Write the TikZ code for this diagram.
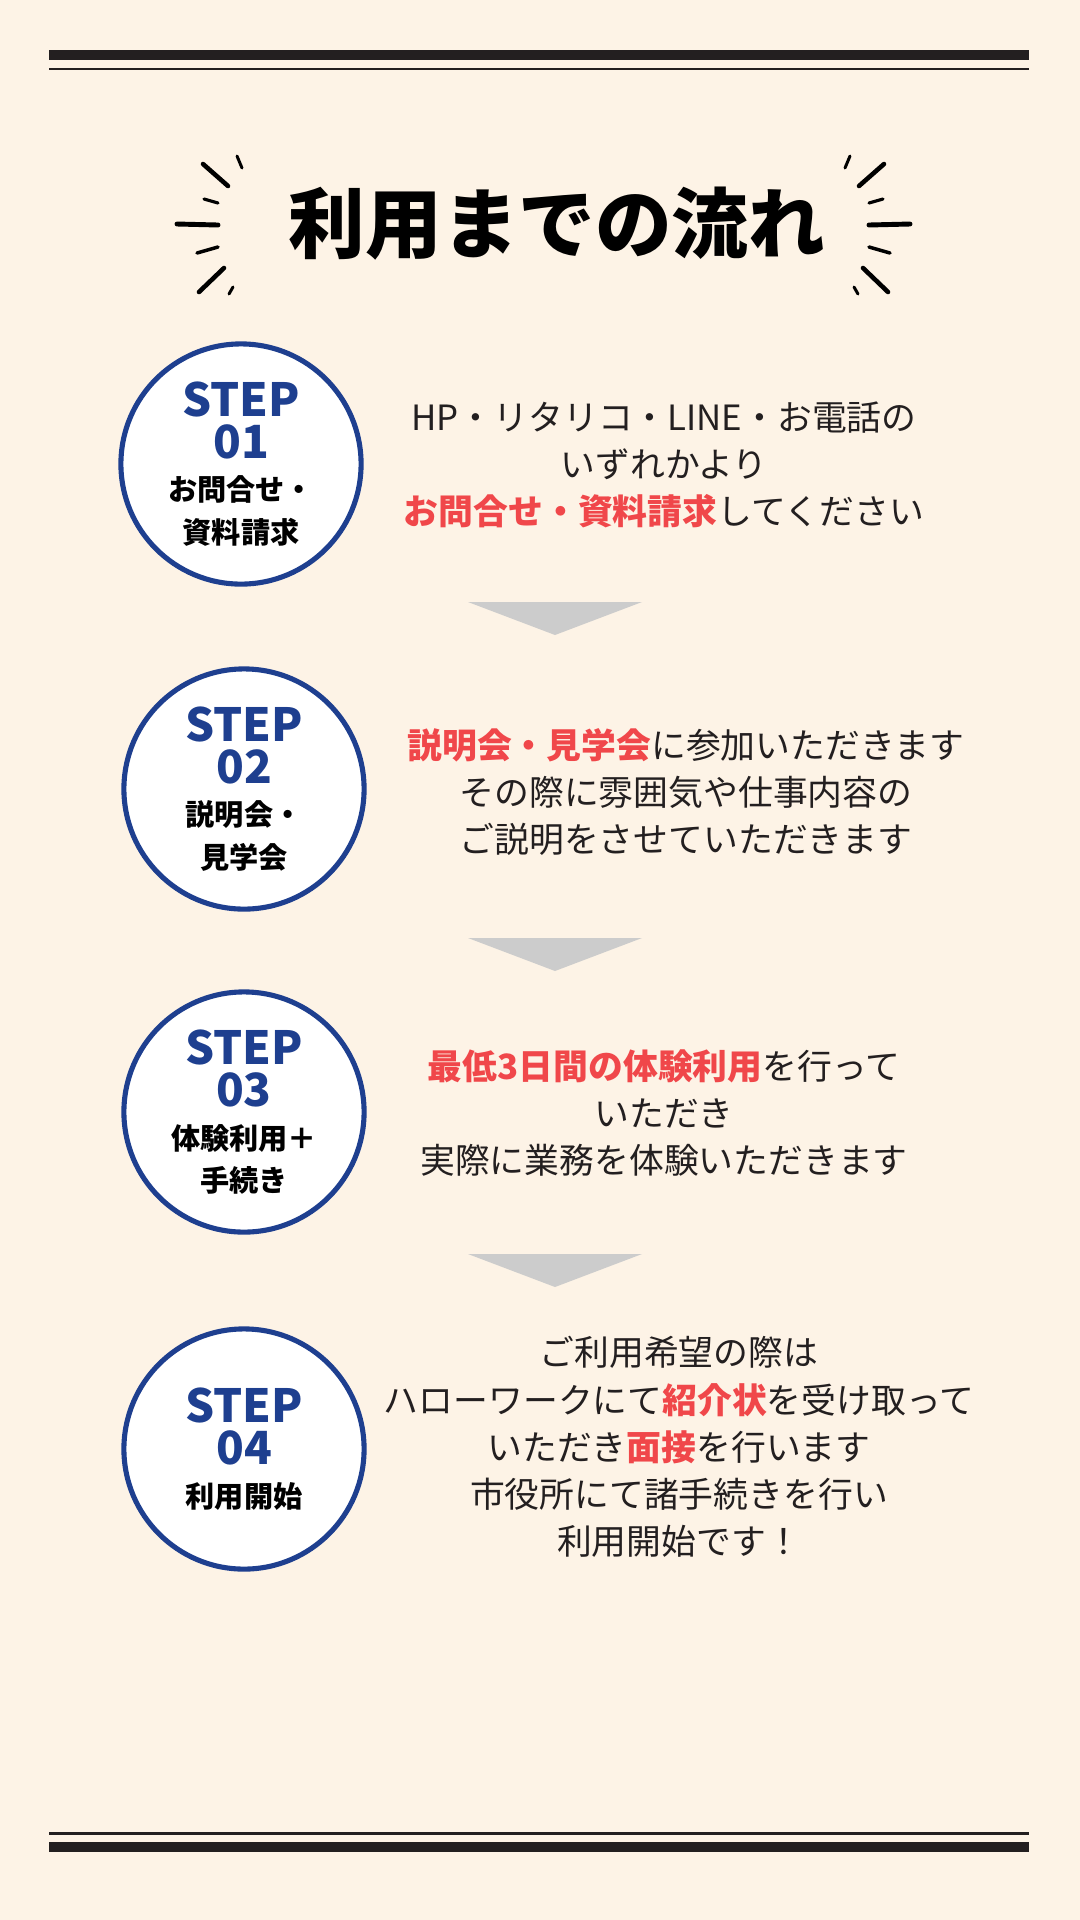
\documentclass[tikz,border=0pt]{standalone}
\usepackage{fontspec}
\setmainfont{Noto Sans CJK JP}
\definecolor{bg}{HTML}{FDF3E6}
\definecolor{navy}{HTML}{1E3F8F}
\definecolor{hl}{HTML}{F0474A}
\definecolor{ink}{HTML}{231F20}
\definecolor{arr}{HTML}{CCCCCC}
\newcommand{\hi}[1]{{\bfseries\color{hl}#1}}
\newcommand{\bigst}[1]{\textcolor{navy}{\bfseries\fontsize{13pt}{12pt}\selectfont #1}}
\newcommand{\smst}[1]{{\bfseries\fontsize{8.3pt}{11pt}\selectfont #1}}
\tikzset{
  stepcircle/.style={circle,draw=navy,line width=1.45pt,fill=white,minimum size=68.3pt,inner sep=0pt,align=center},
  body/.style={align=center,font=\fontsize{9.9pt}{13.4pt}\selectfont,text=ink},
  burst/.style={line cap=round,line width=#1},
  down/.style={fill=arr,draw=none}
}
\begin{document}
\begin{tikzpicture}[x=0.01cm,y=-0.01cm]
\fill[bg] (0,0) rectangle (1080,1920);
\useasboundingbox (0,0) rectangle (1080,1920);
% rules
\fill[ink] (49,50) rectangle (1029,60);
\fill[ink] (49,67.5) rectangle (1029,70);
\fill[ink] (49,1832) rectangle (1029,1834.5);
\fill[ink] (49,1842) rectangle (1029,1852);
% title
\node[font=\bfseries\fontsize{21.8pt}{24pt}\selectfont,text=black] (title) at (557,224) {利用までの流れ};
% burst
\foreach \a/\b/\c/\d/\w in {203/164/228/186/1.3pt,237/156/242/168/0.85pt,204/199/218/203/0.9pt,177/224/218/225/1.4pt,197/253/218/247/1pt,199/292/224/268/1.3pt,229/294/233/287/0.85pt}{
  \draw[burst=\w] (\a,\b) -- (\c,\d);
  \draw[burst=\w] (1087-\a,\b) -- (1087-\c,\d);
}
% steps
\node[stepcircle] (s1) at (241,464) {\bigst{STEP}\\\bigst{01}\\\smst{お問合せ・}\\\smst{資料請求}};
\node[stepcircle] (s2) at (244,789) {\bigst{STEP}\\\bigst{02}\\\smst{説明会・}\\\smst{見学会}};
\node[stepcircle] (s3) at (244,1112) {\bigst{STEP}\\\bigst{03}\\\smst{体験利用＋}\\\smst{手続き}};
\node[stepcircle] (s4) at (244,1449) {\bigst{STEP}\\\bigst{04}\\\smst{利用開始}};
% texts
\node[body] (t1) at (664,465) {HP・リタリコ・LINE・お電話の\\いずれかより\\\hi{お問合せ・資料請求}してください};
\node[body] (t2) at (686,792) {\hi{説明会・見学会}に参加いただきます\\その際に雰囲気や仕事内容の\\ご説明をさせていただきます};
\node[body] (t3) at (664,1113) {\hi{最低3日間の体験利用}を行って\\いただき\\実際に業務を体験いただきます};
\node[body] (t4) at (679,1447) {ご利用希望の際は\\ハローワークにて\hi{紹介状}を受け取って\\いただき\hi{面接}を行います\\市役所にて諸手続きを行い\\利用開始です！};
% arrows
\fill[down] (468,602) -- (642,602) -- (555,635) -- cycle;
\fill[down] (468,938) -- (642,938) -- (555,971) -- cycle;
\fill[down] (468,1254) -- (642,1254) -- (555,1287) -- cycle;
\end{tikzpicture}
\end{document}
